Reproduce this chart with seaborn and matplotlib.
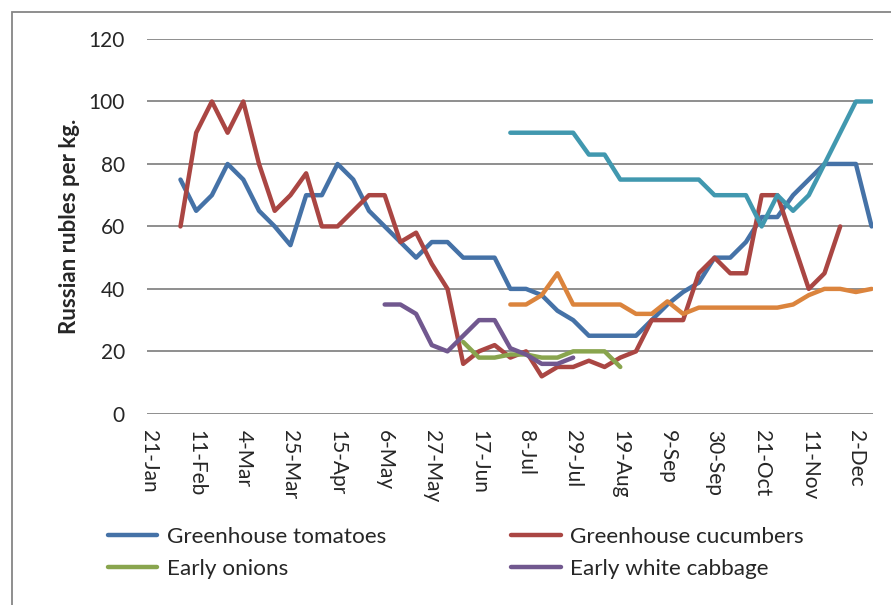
import numpy as np
import pandas as pd
import seaborn as sns
import matplotlib.pyplot as plt
from matplotlib.patches import Rectangle

# weekly prices, week 0 = 21-Jan, last = 9-Dec (47 weeks)
n_weeks = 47
tick_labels = ["21-Jan", "11-Feb", "4-Mar", "25-Mar", "15-Apr", "6-May", "27-May", "17-Jun",
               "8-Jul", "29-Jul", "19-Aug", "9-Sep", "30-Sep", "21-Oct", "11-Nov", "2-Dec"]

# (first week index, values)
tomatoes = (2, [75, 65, 70, 80, 75, 65, 60, 54, 70, 70, 80, 75, 65, 60, 55, 50, 55, 55, 50, 50,
                50, 40, 40, 38, 33, 30, 25, 25, 25, 25, 30, 35, 39, 42, 50, 50, 55, 63, 63, 70,
                75, 80, 80, 80, 60])
cucumbers = (2, [60, 90, 100, 90, 100, 80, 65, 70, 77, 60, 60, 65, 70, 70, 55, 58, 48, 40, 16, 20,
                 22, 18, 20, 12, 15, 15, 17, 15, 18, 20, 30, 30, 30, 45, 50, 45, 45, 70, 70, 55,
                 40, 45, 60])
onions = (20, [23, 18, 18, 19, 19, 18, 18, 20, 20, 20, 15])
cabbage = (15, [35, 35, 32, 22, 20, 25, 30, 30, 21, 19, 16, 16, 18])
series_teal = (23, [90, 90, 90, 90, 90, 83, 83, 75, 75, 75, 75, 75, 75, 70, 70, 70, 60, 70, 65, 70,
                    80, 90, 100, 100])
series_orange = (23, [35, 35, 38, 45, 35, 35, 35, 35, 32, 32, 36, 32, 34, 34, 34, 34, 34, 34, 35, 38,
                      40, 40, 39, 40])

series = [
    ("Greenhouse tomatoes", tomatoes, "#4572A7"),
    ("Greenhouse cucumbers", cucumbers, "#AA4643"),
    ("Early onions", onions, "#89A54E"),
    ("Early white cabbage", cabbage, "#71588F"),
    ("_teal", series_teal, "#4198AF"),
    ("_orange", series_orange, "#DB843D"),
]

sns.set_style("white")
plt.rcParams["font.family"] = ["Lato", "DejaVu Sans"]

fig = plt.figure(figsize=(8.91, 6.05), dpi=100)
ax = fig.add_axes([0.165, 0.316, 0.815, 0.6195])

for name, (start, vals), color in series:
    x = np.arange(start, start + len(vals))
    sns.lineplot(x=x, y=vals, ax=ax, color=color, lw=3.2, label=name,
                 solid_capstyle="round", solid_joinstyle="round", legend=False)

ax.set_xlim(-0.13, 46.1)
ax.set_ylim(0, 120)
ax.set_yticks(range(0, 121, 20))
ax.set_xticks(np.arange(0, n_weeks - 1, 3))
ax.set_xticklabels(tick_labels, rotation=270, fontsize=15)
ax.tick_params(axis="y", labelsize=15, length=0, pad=16)
ax.tick_params(axis="x", length=0, pad=12)
ax.grid(axis="y", color="#868686", lw=1.3)
ax.set_axisbelow(True)
for s in ax.spines.values():
    s.set_visible(False)
ax.set_ylabel("Russian rubles per kg.", fontsize=16, fontweight="bold", labelpad=6)

lines = ax.get_lines()
handles = [lines[0], lines[2], lines[1], lines[3]]  # row-wise order
fig.legend(handles, [h.get_label() for h in handles], ncol=2, frameon=False,
           loc="upper left", bbox_to_anchor=(0.098, 0.162), fontsize=16.2,
           handlelength=2.2, handletextpad=0.44, columnspacing=5.55, labelspacing=0.52)

fig.patches.append(Rectangle((12 / 891, -0.05), 1.0, 1.05 - 12 / 605, transform=fig.transFigure,
                             fill=False, edgecolor="#868686", lw=1.3))

fig.savefig("out.png", dpi=100)
